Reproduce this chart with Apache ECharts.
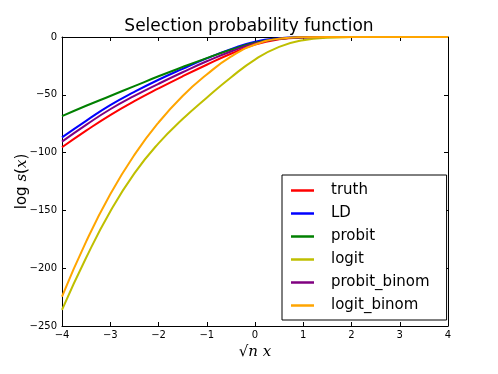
<!DOCTYPE html>
<html>
<head>
<meta charset="utf-8">
<script src="https://cdn.jsdelivr.net/npm/echarts@6/dist/echarts.min.js"></script>
<style>
  html, body { margin: 0; padding: 0; background: #fff; }
  #chart { width: 498px; height: 374px; }
</style>
</head>
<body>
<div id="chart"></div>
<script>
// x positions (sqrt(n) x)
var xs = [-4, -3.5, -3, -2.5, -2, -1.5, -1, -0.5, 0, 0.5, 1, 1.5, 2, 2.5, 3, 3.5, 4];

// log s(x)
var truth       = [-95.4, -81, -67.5, -55.5, -44.5, -34, -24, -14.5, -6.5, -2, -0.4, -0.05, 0, 0, 0, 0, 0];
var ld          = [-86.8, -72.5, -59, -47.5, -37, -27.5, -18.5, -10.5, -4, -1.1, -0.2, 0, 0, 0, 0, 0, 0];
var probit      = [-68.5, -59.5, -51, -42.5, -34, -26, -18.3, -11, -5, -1.5, -0.3, 0, 0, 0, 0, 0, 0];
var logit       = [-236, -191, -151, -118, -92, -71, -52.5, -35, -19.5, -8.5, -2.8, -0.6, -0.1, 0, 0, 0, 0];
var probitBinom = [-90.5, -76, -62.5, -51, -40.5, -30.5, -21, -12.5, -5.5, -1.6, -0.3, 0, 0, 0, 0, 0, 0];
var logitBinom  = [-224.6, -177, -136, -102, -74, -51, -32.5, -17, -6.5, -1.5, -0.2, 0, 0, 0, 0, 0, 0];

var names  = ['truth', 'LD', 'probit', 'logit', 'probit_binom', 'logit_binom'];
var values = [truth, ld, probit, logit, probitBinom, logitBinom];
var colors = ['#ff0000', '#0000ff', '#008000', '#bfbf00', '#800080', '#ffa500'];

function minus(v) { return String(v).replace('-', '\u2212'); }

var myChart = echarts.init(document.getElementById('chart'));

var series = names.map(function (n, i) {
	return {
		name: n,
		type: 'line',
		symbol: 'none',
		smooth: 0.5,
		data: xs.map(function (x, k) { return [x, values[i][k]]; }),
		lineStyle: { color: colors[i], width: 2 },
		itemStyle: { color: colors[i] },
		z: 2 + i
	};
});

var tickStyle = { show: true, inside: true, length: 4, lineStyle: { color: '#000', width: 1 } };
var lineStyle = { show: true, onZero: false, lineStyle: { color: '#000', width: 1 } };

var option = {
	animation: false,
	backgroundColor: '#fff',
	title: {
		text: 'Selection probability function',
		left: 'center',
		top: 13,
		textStyle: { fontFamily: 'DejaVu Sans', fontSize: 17, fontWeight: 'normal', color: '#000' }
	},
	grid: { left: 62, right: 50, top: 37, bottom: 48 },
	legend: {
		orient: 'vertical',
		left: 282,
		top: 175,
		padding: [8, 17, 7, 9],
		borderColor: '#000',
		borderWidth: 1,
		backgroundColor: '#fff',
		icon: 'rect',
		itemWidth: 23,
		itemHeight: 2.5,
		itemGap: 8,
		data: names,
		textStyle: { fontFamily: 'DejaVu Sans', fontSize: 15, lineHeight: 14, color: '#000', padding: [0, 0, 0, 12] }
	},
	xAxis: [
		{
			type: 'value', min: -4, max: 4, interval: 1,
			axisLine: lineStyle, axisTick: tickStyle, splitLine: { show: false },
			axisLabel: { fontFamily: 'DejaVu Sans', fontSize: 10, color: '#000', margin: 4, formatter: minus },
			name: '{r|\u221A}{i|n x}',
			nameLocation: 'middle',
			nameGap: 17,
			nameTextStyle: {
				rich: {
					r: { fontFamily: 'DejaVu Serif', fontSize: 15, color: '#000' },
					i: { fontFamily: 'DejaVu Serif', fontStyle: 'italic', fontSize: 15, color: '#000' }
				}
			}
		},
		{
			type: 'value', min: -4, max: 4, interval: 1, position: 'top',
			axisLine: lineStyle, axisTick: tickStyle, axisLabel: { show: false }, splitLine: { show: false }
		}
	],
	yAxis: [
		{
			type: 'value', min: -250, max: 0, interval: 50,
			axisLine: lineStyle, axisTick: tickStyle, splitLine: { show: false },
			axisLabel: { fontFamily: 'DejaVu Sans', fontSize: 10, color: '#000', margin: 5, formatter: minus },
			name: '{r|log }{i|s}{r|(}{i|x}{r|)}',
			nameLocation: 'middle',
			nameRotate: 90,
			nameGap: 32,
			nameMoveOverlap: false,
			nameTextStyle: {
				rich: {
					r: { fontFamily: 'DejaVu Sans', fontSize: 15, color: '#000' },
					i: { fontFamily: 'DejaVu Serif', fontStyle: 'italic', fontSize: 15, color: '#000' }
				}
			}
		},
		{
			type: 'value', min: -250, max: 0, interval: 50, position: 'right',
			axisLine: lineStyle, axisTick: tickStyle, axisLabel: { show: false }, splitLine: { show: false }
		}
	],
	series: series
};

myChart.setOption(option);
</script>
</body>
</html>
